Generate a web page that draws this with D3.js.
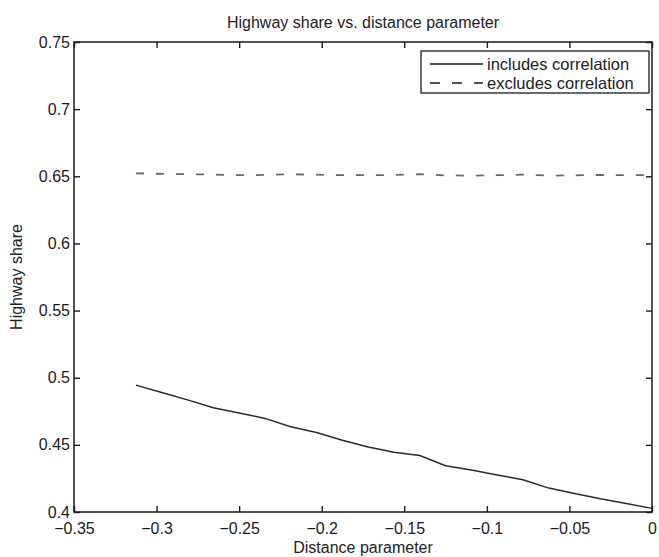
<!DOCTYPE html>
<html>
<head>
<meta charset="utf-8">
<script src="https://cdn.jsdelivr.net/npm/d3@7"></script>
<style>
  body { margin: 0; background: #fff; }
  svg text { font-family: "Liberation Sans", Arial, sans-serif; fill: #222; }
</style>
</head>
<body>
<div id="chart"></div>
<script>
// distance parameter grid (x values)
const distance = [-0.3125, -0.296875, -0.28125, -0.265625, -0.25, -0.234375, -0.21875,
    -0.203125, -0.1875, -0.171875, -0.15625, -0.140625, -0.125, -0.109375, -0.09375,
    -0.078125, -0.0625, -0.046875, -0.03125, -0.015625, 0];
// highway share, model with correlation
const includesCorr = [0.4945, 0.4890, 0.4835, 0.4776, 0.4738, 0.4697, 0.4635, 0.4592,
    0.4535, 0.4484, 0.4445, 0.4420, 0.4345, 0.4312, 0.4276, 0.4240, 0.4178, 0.4138,
    0.4098, 0.4063, 0.4027];
// highway share, model without correlation
const excludesCorr = [0.6522, 0.6518, 0.6515, 0.6513, 0.6508, 0.6510, 0.6515, 0.6512,
    0.6508, 0.6508, 0.6510, 0.6515, 0.6507, 0.6505, 0.6508, 0.6512, 0.6505, 0.6507,
    0.6510, 0.6508, 0.6508];

const xTicks = [-0.35, -0.3, -0.25, -0.2, -0.15, -0.1, -0.05, 0];
const xTickLabels = ['\u22120.35', '\u22120.3', '\u22120.25', '\u22120.2', '\u22120.15', '\u22120.1', '\u22120.05', '0'];
const yTicks = [0.4, 0.45, 0.5, 0.55, 0.6, 0.65, 0.7, 0.75];
const yTickLabels = ['0.4', '0.45', '0.5', '0.55', '0.6', '0.65', '0.7', '0.75'];
const seriesNames = ['includes correlation', 'excludes correlation'];

const W = 659, H = 557;
const margin = { top: 42, right: 7, bottom: 45, left: 74 };
const width = W - margin.left - margin.right;
const height = H - margin.top - margin.bottom;

const svg = d3.select('#chart').append('svg')
    .attr('width', W)
    .attr('height', H);

const g = svg.append('g')
    .attr('transform', 'translate(' + margin.left + ',' + margin.top + ')');

const x = d3.scaleLinear().domain([-0.35, 0]).range([0, width]);
const y = d3.scaleLinear().domain([0.4, 0.75]).range([height, 0]);

// axes, ticks pointing inward like matlab
function styleAxis(sel) {
    sel.select('.domain').remove();
    sel.selectAll('line').attr('stroke', '#1a1a1a').attr('stroke-width', 1.4);
    sel.selectAll('text').attr('font-size', '16px').style('fill', '#1a1a1a');
}

g.append('g')
    .attr('transform', 'translate(0,' + height + ')')
    .call(d3.axisBottom(x).tickValues(xTicks).tickSizeInner(-6).tickSizeOuter(0)
        .tickPadding(11).tickFormat((d, i) => xTickLabels[i]))
    .call(styleAxis);

g.append('g')
    .call(d3.axisTop(x).tickValues(xTicks).tickSizeInner(-6).tickSizeOuter(0).tickFormat(''))
    .call(styleAxis);

g.append('g')
    .call(d3.axisLeft(y).tickValues(yTicks).tickSizeInner(-6).tickSizeOuter(0)
        .tickPadding(4).tickFormat((d, i) => yTickLabels[i]))
    .call(styleAxis);

g.append('g')
    .attr('transform', 'translate(' + width + ',0)')
    .call(d3.axisRight(y).tickValues(yTicks).tickSizeInner(-6).tickSizeOuter(0).tickFormat(''))
    .call(styleAxis);

// frame
g.append('rect')
    .attr('width', width)
    .attr('height', height)
    .attr('fill', 'none')
    .attr('stroke', '#1a1a1a')
    .attr('stroke-width', 1.5);

const line = d3.line()
    .x(d => x(d[0]))
    .y(d => y(d[1]));

g.append('path')
    .datum(d3.zip(distance, excludesCorr))
    .attr('d', line)
    .attr('fill', 'none')
    .attr('stroke', '#666')
    .attr('stroke-width', 1.8)
    .attr('stroke-dasharray', '8,12');

g.append('path')
    .datum(d3.zip(distance, includesCorr))
    .attr('d', line)
    .attr('fill', 'none')
    .attr('stroke', '#2a2a2a')
    .attr('stroke-width', 1.5);

// legend
const legend = g.append('g')
    .attr('transform', 'translate(' + (421 - margin.left) + ',' + (51 - margin.top) + ')');
legend.append('rect')
    .attr('width', 228)
    .attr('height', 42)
    .attr('fill', '#fff')
    .attr('stroke', '#1a1a1a')
    .attr('stroke-width', 1.3);
seriesNames.forEach(function(name, i) {
    const ly = 13 + i * 19;
    legend.append('line')
        .attr('x1', 9).attr('x2', 62)
        .attr('y1', ly).attr('y2', ly)
        .attr('stroke', '#1a1a1a')
        .attr('stroke-width', 1.4)
        .attr('stroke-dasharray', i === 1 ? '10,12' : null);
    legend.append('text')
        .attr('x', 66)
        .attr('y', ly + 6)
        .attr('font-size', '16.5px')
        .text(name);
});

// titles
svg.append('text')
    .attr('x', margin.left + width / 2)
    .attr('y', 28)
    .attr('text-anchor', 'middle')
    .attr('font-size', '16px')
    .text('Highway share vs. distance parameter');

svg.append('text')
    .attr('x', margin.left + width / 2)
    .attr('y', 553)
    .attr('text-anchor', 'middle')
    .attr('font-size', '16px')
    .text('Distance parameter');

svg.append('text')
    .attr('transform', 'translate(22,' + (margin.top + height / 2) + ') rotate(-90)')
    .attr('text-anchor', 'middle')
    .attr('font-size', '16px')
    .text('Highway share');
</script>
</body>
</html>
